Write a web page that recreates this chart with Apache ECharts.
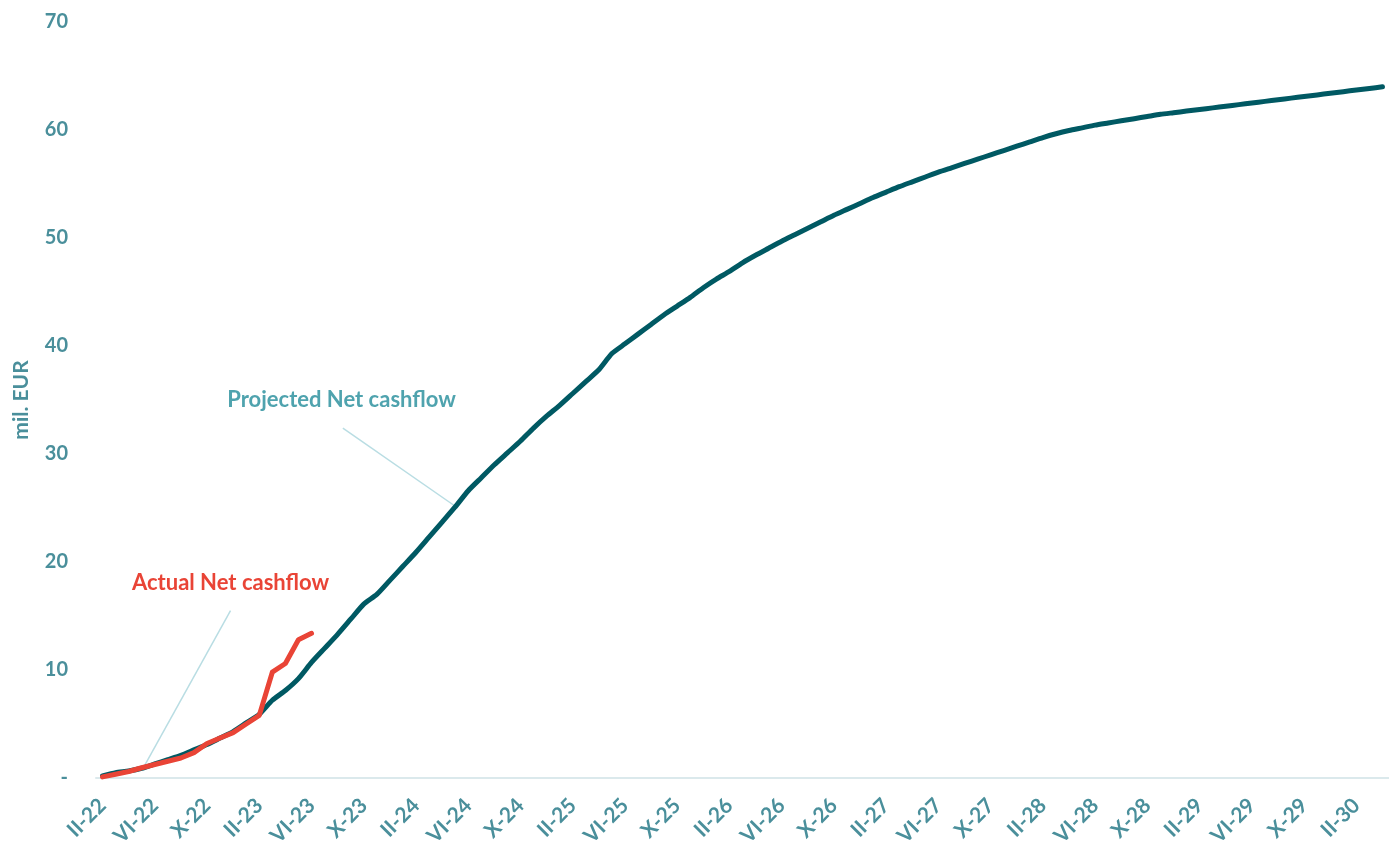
<!DOCTYPE html>
<html>
<head>
<meta charset="utf-8">
<script src="https://cdn.jsdelivr.net/npm/echarts@6/dist/echarts.min.js"></script>
<style>
html,body{margin:0;padding:0;background:#fff;}
#chart{width:1389px;height:843px;}
</style>
</head>
<body>
<div id="chart"></div>
<script>
// Months Feb 2022 .. Apr 2030, roman-numeral month labels
const romanMonths = ['I','II','III','IV','V','VI','VII','VIII','IX','X','XI','XII'];
const categories = [];
for (let y = 2022, m = 1; categories.length < 99; ) {
  categories.push(romanMonths[m] + '-' + String(y).slice(2));
  m++; if (m > 11) { m = 0; y++; }
}

const projected = [
  0.2, 0.5, 0.65, 0.9, 1.3, 1.7, 2.1, 2.6, 3.1, 3.7,
  4.3, 5.1, 5.9, 7.2, 8.1, 9.2, 10.7, 12.0, 13.3, 14.7,
  16.1, 17.0, 18.3, 19.6, 20.9, 22.3, 23.7, 25.1, 26.6, 27.8,
  29.0, 30.1, 31.2, 32.4, 33.5, 34.5, 35.6, 36.7, 37.8, 39.3,
  40.2, 41.1, 42.0, 42.9, 43.7, 44.5, 45.4, 46.2, 46.9, 47.7,
  48.4, 49.05, 49.7, 50.3, 50.9, 51.5, 52.1, 52.65, 53.2, 53.75,
  54.25, 54.75, 55.2, 55.65, 56.1, 56.5, 56.9, 57.3, 57.7, 58.1,
  58.5, 58.9, 59.3, 59.65, 59.95, 60.2, 60.45, 60.65, 60.85, 61.05,
  61.25, 61.45, 61.6, 61.75, 61.9, 62.05, 62.2, 62.35, 62.5, 62.65,
  62.8, 62.95, 63.1, 63.25, 63.4, 63.55, 63.7, 63.85, 64.0
];

const actual = [
  0.1, 0.35, 0.6, 0.95, 1.25, 1.55, 1.85, 2.35, 3.2, 3.7,
  4.2, 5.0, 5.8, 9.8, 10.6, 12.8, 13.4
];

// Annotations in data coordinates: [categoryIndex (fractional), value]
const annotations = [
  { text: 'Projected Net cashflow', color: '#4fa3ae', label: [18.3, 35.0], from: [18.4, 32.4], to: [27.2, 25.0] },
  { text: 'Actual Net cashflow', color: '#e94436', label: [9.8, 18.1], from: [9.8, 15.5], to: [3.1, 0.9] }
];

const tealText = '#4a8f9b';
const chart = echarts.init(document.getElementById('chart'));
chart.setOption({
  animation: false,
  textStyle: { fontFamily: 'Lato' },
  grid: { left: 96, right: 0, top: 22, bottom: 65, containLabel: false, outerBoundsMode: 'none' },
  xAxis: {
    type: 'category',
    data: categories,
    boundaryGap: true,
    axisLine: { lineStyle: { color: '#dbe9ec', width: 2 } },
    axisTick: { interval: 3, length: 7, lineStyle: { color: '#dbe9ec', width: 2 } },
    axisLabel: {
      interval: 3, rotate: 45, color: tealText, fontWeight: 'bold', fontSize: 21,
      fontFamily: 'Lato', margin: 24
    },
    splitLine: { show: false }
  },
  yAxis: {
    type: 'value',
    min: 0, max: 70, interval: 10,
    name: 'mil. EUR', nameLocation: 'middle', nameGap: 64, nameRotate: 90,
    nameTextStyle: { color: tealText, fontWeight: 'bold', fontSize: 21, fontFamily: 'Lato' },
    axisLine: { show: false },
    axisTick: { show: false },
    splitLine: { show: false },
    axisLabel: {
      color: tealText, fontWeight: 'bold', fontSize: 20, fontFamily: 'Lato', margin: 28,
      formatter: v => v === 0 ? '-' : String(v)
    }
  },
  series: [
    {
      name: 'Projected Net cashflow', type: 'line', data: projected, smooth: 0.2,
      symbol: 'none', lineStyle: { color: '#005963', width: 5, cap: 'round', join: 'round' }, z: 2
    },
    {
      name: 'Actual Net cashflow', type: 'line', data: actual,
      symbol: 'none', lineStyle: { color: '#e94436', width: 5, cap: 'round', join: 'round' }, z: 3
    }
  ]
});

// convert fractional category index + value to pixels by interpolating between categories
const px = p => {
  const i0 = Math.floor(p[0]), fr = p[0] - i0;
  const a = chart.convertToPixel({ gridIndex: 0 }, [i0, p[1]]);
  const b = chart.convertToPixel({ gridIndex: 0 }, [i0 + 1, p[1]]);
  return [a[0] + (b[0] - a[0]) * fr, a[1]];
};
const graphics = [];
annotations.forEach(a => {
  const f = px(a.from), t = px(a.to), l = px(a.label);
  graphics.push({
    type: 'line', z: 1, silent: true,
    shape: { x1: f[0], y1: f[1], x2: t[0], y2: t[1] },
    style: { stroke: '#b9dde3', lineWidth: 1.5 }
  });
  graphics.push({
    type: 'text', z: 5, silent: true, x: l[0], y: l[1],
    style: { text: a.text, fill: a.color, font: 'bold 22px Lato', align: 'center', verticalAlign: 'middle' }
  });
});
chart.setOption({ graphic: graphics });
</script>
</body>
</html>
